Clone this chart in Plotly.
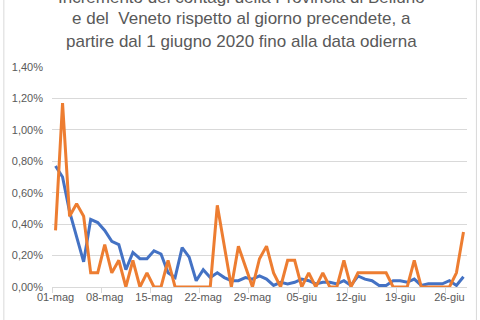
import plotly.graph_objects as go
import pandas as pd

dates = pd.date_range("2020-05-01", "2020-06-28", freq="D")

veneto = [0.77, 0.70, 0.48, 0.32, 0.16, 0.43, 0.41, 0.36, 0.29, 0.27,
          0.11, 0.22, 0.18, 0.18, 0.23, 0.21, 0.09, 0.06, 0.25, 0.19,
          0.04, 0.11, 0.06, 0.09, 0.06, 0.04, 0.04, 0.06, 0.05, 0.07,
          0.05, 0.01, 0.03, 0.02, 0.03, 0.05, 0.04, 0.02, 0.03, 0.03,
          0.02, 0.04, 0.01, 0.07, 0.05, 0.04, 0.01, 0.01, 0.04, 0.04,
          0.03, 0.05, 0.01, 0.02, 0.02, 0.02, 0.04, 0.01, 0.065]

belluno = [0.36, 1.17, 0.45, 0.53, 0.45, 0.09, 0.09, 0.27, 0.09, 0.17,
           0.00, 0.17, 0.00, 0.09, 0.00, 0.00, 0.17, 0.00, 0.00, 0.00,
           0.00, 0.00, 0.00, 0.52, 0.26, 0.00, 0.26, 0.13, 0.00, 0.18,
           0.26, 0.09, 0.00, 0.17, 0.17, 0.00, 0.09, 0.00, 0.09, 0.00,
           0.00, 0.17, 0.00, 0.09, 0.09, 0.09, 0.09, 0.09, 0.00, 0.00,
           0.00, 0.17, 0.00, 0.00, 0.00, 0.00, 0.00, 0.09, 0.35]

x_tick_labels = ["01-mag", "08-mag", "15-mag", "22-mag", "29-mag",
                 "05-giu", "12-giu", "19-giu", "26-giu"]
x_tick_dates = pd.date_range("2020-05-01", periods=len(x_tick_labels), freq="7D")

y_tick_vals = [0.0, 0.2, 0.4, 0.6, 0.8, 1.0, 1.2, 1.4]
y_tick_labels = ["0,00%", "0,20%", "0,40%", "0,60%", "0,80%", "1,00%", "1,20%", "1,40%"]

title_lines = ["Incremento dei contagi della Provincia di Belluno",
               "e del  Veneto rispetto al giorno precendete, a",
               "partire dal 1 giugno 2020 fino alla data odierna"]

fig = go.Figure()
fig.add_trace(go.Scatter(x=dates, y=veneto, mode="lines", name="Veneto",
                         line=dict(color="#4472C4", width=3)))
fig.add_trace(go.Scatter(x=dates, y=belluno, mode="lines", name="Belluno",
                         line=dict(color="#ED7D31", width=3)))

L, R, T, B = 49, 13, 67, 33
W, H = 480, 320
pw = W - L - R
ph = H - T - B

fig.update_layout(
    width=W, height=H,
    margin=dict(l=L, r=R, t=T, b=B, pad=0),
    paper_bgcolor="white", plot_bgcolor="white",
    showlegend=False,
    font=dict(family="Liberation Sans, Arial, sans-serif", color="#595959"),
)

fig.update_xaxes(
    range=[pd.Timestamp("2020-04-30 12:00"), pd.Timestamp("2020-06-28 12:00")],
    tickmode="array", tickvals=x_tick_dates, ticktext=x_tick_labels,
    tickfont=dict(size=11, color="#595959"),
    showgrid=False, ticks="", showline=True, linecolor="#D9D9D9", linewidth=1,
    minor=dict(tickmode="linear", tick0=pd.Timestamp("2020-04-30 12:00"),
               dtick=7 * 86400000, ticks="outside", ticklen=5,
               tickcolor="#D9D9D9", showgrid=False),
    zeroline=False,
)
fig.update_yaxes(
    range=[0, 1.4], tickmode="array", tickvals=y_tick_vals, ticktext=y_tick_labels,
    tickfont=dict(size=11, color="#595959"),
    showgrid=True, gridcolor="#D9D9D9", gridwidth=1, zeroline=False,
    showline=False, ticks="", ticklabelstandoff=8,
)

# title (three lines, first one partly above the visible area, as in the reference)
line_centers = [-3, 19, 41]
for txt, yc in zip(title_lines, line_centers):
    fig.add_annotation(text=txt, xref="paper", yref="paper",
                       x=(240 - L) / pw, y=(H - B - yc) / ph,
                       xanchor="center", yanchor="middle", showarrow=False,
                       font=dict(size=17, color="#595959",
                                 family="Liberation Sans, Arial, sans-serif"))

# chart border
for px in (0.5, 476.5):
    fig.add_shape(type="line", xref="paper", yref="paper",
                  x0=(px - L) / pw, x1=(px - L) / pw,
                  y0=-0.2, y1=1.4, line=dict(color="#D9D9D9", width=1))

fig.write_html("out.html")
